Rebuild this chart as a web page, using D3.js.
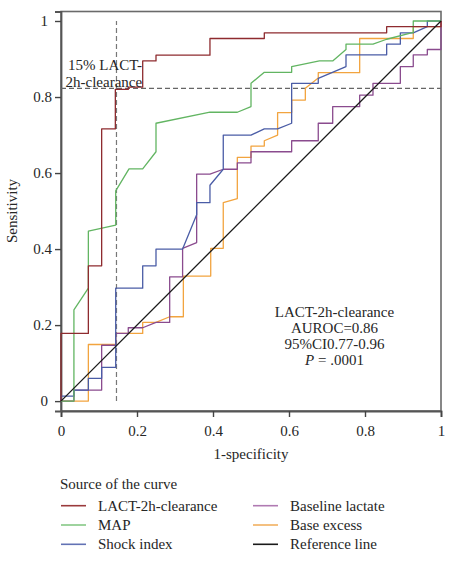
<!DOCTYPE html>
<html>
<head>
<meta charset="utf-8">
<script src="https://cdn.jsdelivr.net/npm/d3@7"></script>
<style>
  html, body { margin: 0; padding: 0; background: #fff; }
  svg text { font-family: "Liberation Serif", "Times New Roman", serif; fill: #262626; }
</style>
</head>
<body>
<svg id="chart" width="453" height="561"></svg>
<script>
// ---------- data ----------
const xTicks = [0, 0.2, 0.4, 0.6, 0.8, 1];
const yTicks = [0, 0.2, 0.4, 0.6, 0.8, 1];
const xTickLabels = ["0", "0.2", "0.4", "0.6", "0.8", "1"];
const yTickLabels = ["0", "0.2", "0.4", "0.6", "0.8", "1"];

const lactClearance = [[0,0],[0,0.178],[0.072,0.178],[0.072,0.356],[0.107,0.356],[0.107,0.716],[0.143,0.716],[0.143,0.820],[0.177,0.820],[0.177,0.826],[0.215,0.826],[0.215,0.895],[0.25,0.895],[0.25,0.910],[0.392,0.910],[0.392,0.954],[0.535,0.954],[0.535,0.969],[0.857,0.969],[0.857,0.985],[1,0.985],[1,1]];
const mapCurve = [[0,0],[0.034,0],[0.034,0.24],[0.072,0.297],[0.072,0.447],[0.144,0.463],[0.144,0.553],[0.179,0.611],[0.215,0.611],[0.25,0.656],[0.25,0.731],[0.392,0.760],[0.464,0.760],[0.5,0.775],[0.5,0.836],[0.535,0.865],[0.607,0.865],[0.607,0.88],[0.68,0.895],[0.715,0.895],[0.75,0.925],[0.75,0.939],[0.821,0.939],[0.857,0.952],[0.927,0.970],[0.927,1],[1,1]];
const shockIndex = [[0,0],[0,0.013],[0.034,0.013],[0.034,0.029],[0.072,0.029],[0.072,0.06],[0.107,0.06],[0.107,0.089],[0.144,0.089],[0.144,0.297],[0.215,0.297],[0.215,0.356],[0.25,0.356],[0.25,0.4],[0.32,0.4],[0.357,0.49],[0.357,0.522],[0.392,0.522],[0.392,0.568],[0.427,0.61],[0.427,0.7],[0.5,0.7],[0.535,0.716],[0.57,0.716],[0.607,0.731],[0.607,0.836],[0.677,0.836],[0.677,0.849],[0.75,0.88],[0.75,0.911],[0.857,0.911],[0.857,0.939],[0.893,0.939],[0.893,0.969],[0.927,0.969],[0.964,0.985],[0.964,1],[1,1]];
const baselineLactate = [[0,0],[0.034,0],[0.034,0.029],[0.107,0.029],[0.107,0.147],[0.144,0.147],[0.144,0.178],[0.177,0.178],[0.177,0.193],[0.215,0.193],[0.25,0.207],[0.286,0.207],[0.286,0.327],[0.32,0.327],[0.32,0.402],[0.357,0.417],[0.357,0.597],[0.392,0.597],[0.427,0.61],[0.464,0.61],[0.464,0.627],[0.5,0.627],[0.5,0.656],[0.607,0.656],[0.607,0.685],[0.677,0.685],[0.677,0.731],[0.715,0.731],[0.715,0.775],[0.786,0.775],[0.786,0.805],[0.821,0.805],[0.821,0.836],[0.893,0.836],[0.893,0.88],[0.927,0.88],[0.927,0.911],[0.964,0.911],[0.964,0.925],[1,0.925],[1,1]];
const baseExcess = [[0,0],[0.072,0],[0.072,0.149],[0.144,0.149],[0.144,0.178],[0.215,0.178],[0.215,0.207],[0.25,0.207],[0.286,0.222],[0.322,0.222],[0.322,0.329],[0.394,0.329],[0.394,0.402],[0.427,0.402],[0.427,0.522],[0.464,0.533],[0.464,0.641],[0.5,0.641],[0.5,0.671],[0.535,0.671],[0.535,0.685],[0.57,0.7],[0.57,0.759],[0.607,0.759],[0.607,0.792],[0.643,0.792],[0.643,0.823],[0.677,0.85],[0.677,0.864],[0.786,0.864],[0.786,0.954],[0.927,0.954],[0.927,0.985],[1,0.985],[1,1]];
const referenceLine = [[0,0],[1,1]];

const cutoffX = 0.146;   // 15% LACT-2h-clearance cut-off (1-specificity)
const cutoffY = 0.823;   // sensitivity at cut-off

const seriesNames = ["LACT-2h-clearance", "MAP", "Shock index", "Baseline lactate", "Base excess", "Reference line"];
const seriesData  = [lactClearance, mapCurve, shockIndex, baselineLactate, baseExcess, referenceLine];
const lineColors  = ["#8e2b2f", "#62b562", "#4a5ca6", "#8a4b8e", "#f2a43f", "#1a1a1a"];
const legendColors = ["#9a3a3c", "#86c886", "#6272b4", "#b07ab2", "#f2b060", "#1a1a1a"];

const annotationLines = ["LACT-2h-clearance", "AUROC=0.86", "95%CI0.77-0.96", "P = .0001"];

// ---------- layout ----------
const svg = d3.select("#chart");
const plotLeft = 61, plotRight = 441, plotTop = 11.5, plotBottom = 411;
const fontSize = "15px";
const x = d3.scaleLinear().domain([0, 1]).range([plotLeft, plotRight]);
const y = d3.scaleLinear().domain([-0.026, 1.025]).range([plotBottom, plotTop]);

// frame
svg.append("rect")
  .attr("x", plotLeft).attr("y", plotTop)
  .attr("width", plotRight - plotLeft).attr("height", plotBottom - plotTop)
  .attr("fill", "none").attr("stroke", "#6a6a6a").attr("stroke-width", 1.6);

// axes
const xAxis = svg.append("g")
  .attr("transform", `translate(0,${plotBottom})`)
  .call(d3.axisBottom(x).tickValues(xTicks).tickSize(6).tickPadding(8)
        .tickFormat((d, i) => xTickLabels[i]));
const yAxis = svg.append("g")
  .attr("transform", `translate(${plotLeft},0)`)
  .call(d3.axisLeft(y).tickValues(yTicks).tickSize(6).tickPadding(9)
        .tickFormat((d, i) => yTickLabels[i]));
[xAxis, yAxis].forEach(g => {
  g.select(".domain").attr("stroke", "#555").attr("stroke-width", 1.8);
  g.selectAll(".tick line").attr("stroke", "#444").attr("stroke-width", 1.4);
  g.selectAll(".tick text").style("font-size", fontSize).attr("fill", "#262626")
   .style("font-family", "'Liberation Serif', serif");
});
yAxis.selectAll(".tick text").attr("x", d => (d === 0 || d === 1) ? -13 : -9);

// dashed cut-off lines
svg.append("line")
  .attr("x1", x(cutoffX)).attr("x2", x(cutoffX))
  .attr("y1", y(0)).attr("y2", y(1))
  .attr("stroke", "#777").attr("stroke-width", 1.2).attr("stroke-dasharray", "5,3");
svg.append("line")
  .attr("x1", x(0)).attr("x2", x(1))
  .attr("y1", y(cutoffY)).attr("y2", y(cutoffY))
  .attr("stroke", "#666").attr("stroke-width", 1.2).attr("stroke-dasharray", "5,3");

// curves
const line = d3.line().x(d => x(d[0])).y(d => y(d[1]));
const drawOrder = [4, 3, 2, 1, 0, 5];
drawOrder.forEach(i => {
  svg.append("path")
    .datum(seriesData[i])
    .attr("d", line)
    .attr("fill", "none")
    .attr("stroke", lineColors[i])
    .attr("stroke-width", 1.3)
    .attr("stroke-linejoin", "round");
});

// cut-off label
const cut = svg.append("text").style("font-size", fontSize);
cut.append("tspan").attr("x", 68).attr("y", 70).text("15% LACT-");
cut.append("tspan").attr("x", 65.5).attr("y", 86.5).text("2h-clearance");

// annotation
const ann = svg.append("text").attr("text-anchor", "middle").style("font-size", fontSize);
annotationLines.forEach((t, i) => {
  const ts = ann.append("tspan").attr("x", 334.5).attr("y", 316.5 + i * 16.2);
  if (t.startsWith("P ")) {
    ts.append("tspan").style("font-style", "italic").text("P");
    ts.append("tspan").text(t.slice(1));
  } else {
    ts.text(t);
  }
});

// axis titles
svg.append("text").attr("x", 251).attr("y", 459).attr("text-anchor", "middle")
  .style("font-size", fontSize).text("1-specificity");
svg.append("text").attr("transform", "translate(17,211) rotate(-90)").attr("text-anchor", "middle")
  .style("font-size", fontSize).text("Sensitivity");

// legend
svg.append("text").attr("x", 60).attr("y", 489).style("font-size", fontSize).text("Source of the curve");
seriesNames.forEach((name, i) => {
  const col = Math.floor(i / 3), row = i % 3;
  const lx = col === 0 ? 61 : 253;
  const ly = 505.7 + row * 19.3;
  svg.append("line").attr("x1", lx).attr("x2", lx + 25).attr("y1", ly).attr("y2", ly)
    .attr("stroke", legendColors[i]).attr("stroke-width", 1.6);
  svg.append("text").attr("x", lx + 37).attr("y", ly + 5).style("font-size", fontSize).text(name);
});
</script>
</body>
</html>
